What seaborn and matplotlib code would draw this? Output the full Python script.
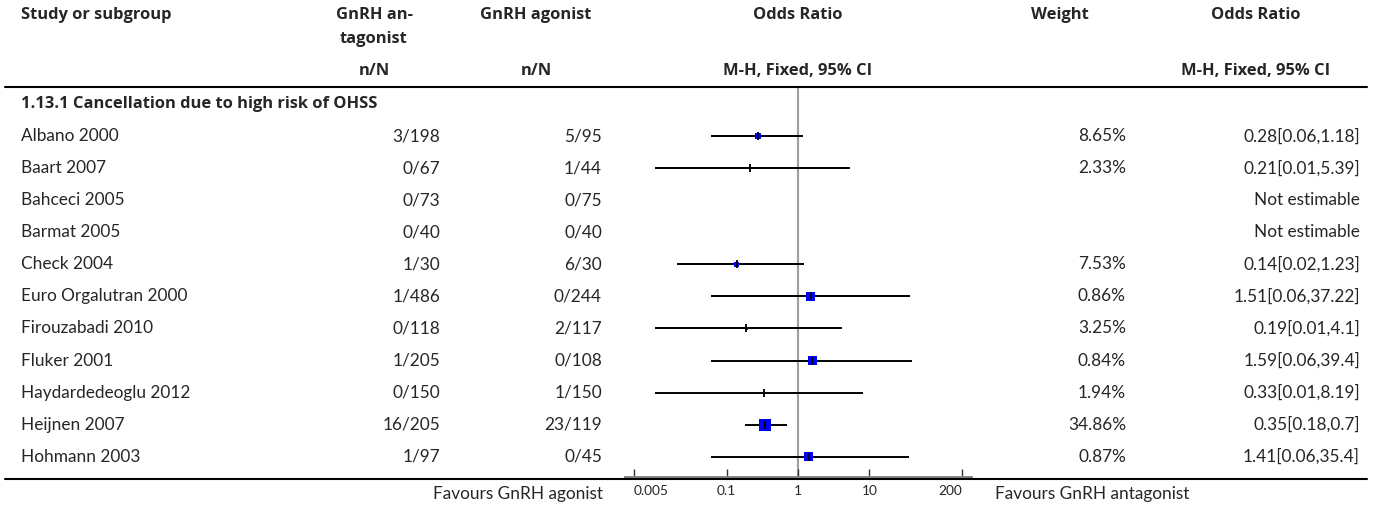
import numpy as np
import pandas as pd
import matplotlib
matplotlib.use("Agg")
import matplotlib.pyplot as plt
import matplotlib.transforms as mtransforms
from matplotlib.lines import Line2D
import seaborn as sns

# ---------------- data ----------------
subgroup = "1.13.1 Cancellation due to high risk of OHSS"
studies = ["Albano 2000", "Baart 2007", "Bahceci 2005", "Barmat 2005", "Check 2004",
           "Euro Orgalutran 2000", "Firouzabadi 2010", "Fluker 2001",
           "Haydardedeoglu 2012", "Heijnen 2007", "Hohmann 2003"]
antagonist_nN = ["3/198", "0/67", "0/73", "0/40", "1/30", "1/486", "0/118",
                 "1/205", "0/150", "16/205", "1/97"]
agonist_nN = ["5/95", "1/44", "0/75", "0/40", "6/30", "0/244", "2/117",
              "0/108", "1/150", "23/119", "0/45"]
odds_ratio = [0.28, 0.21, np.nan, np.nan, 0.14, 1.51, 0.19, 1.59, 0.33, 0.35, 1.41]
ci_low = [0.06, 0.01, np.nan, np.nan, 0.02, 0.06, 0.01, 0.06, 0.01, 0.18, 0.06]
ci_high = [1.18, 5.39, np.nan, np.nan, 1.23, 37.22, 4.1, 39.4, 8.19, 0.7, 35.4]
weights = ["8.65%", "2.33%", "", "", "7.53%", "0.86%", "3.25%", "0.84%",
           "1.94%", "34.86%", "0.87%"]
or_text = ["0.28[0.06,1.18]", "0.21[0.01,5.39]", "Not estimable", "Not estimable",
           "0.14[0.02,1.23]", "1.51[0.06,37.22]", "0.19[0.01,4.1]", "1.59[0.06,39.4]",
           "0.33[0.01,8.19]", "0.35[0.18,0.7]", "1.41[0.06,35.4]"]
tick_values = [0.005, 0.1, 1, 10, 200]
tick_labels = ["0.005", "0.1", "1", "10", "200"]

# style: box side in pixels as drawn
box_px = [6, 0, 0, 0, 5, 9, 3, 8.5, 2, 12, 9]

# ---------------- figure ----------------
W, H = 1375, 507
sns.set_theme(style="white")
plt.rcParams['font.family'] = ['Lato', 'DejaVu Sans']
HFONT = ['Open Sans', 'DejaVu Sans']
fig = plt.figure(figsize=(W / 100, H / 100), dpi=100)
renderer = fig.canvas.get_renderer()


def fit_size(text, target_px, **kw):
    t = fig.text(0, 0, text, fontsize=10, **kw)
    w = t.get_window_extent(renderer=renderer).width
    t.remove()
    return 10 * target_px / w


FS = fit_size("Favours GnRH agonist", 170)
HFS = fit_size("Study or subgroup", 151, fontweight="bold", family=HFONT)
TFS = fit_size("0.005", 35)


def fx(px):
    return px / W


def fy(py):
    return 1 - py / H


ax_left, ax_right = 625, 971
ax_top, ax_bot = 88, 477
ax = fig.add_axes([fx(ax_left), fy(ax_bot), fx(ax_right - ax_left), (ax_bot - ax_top) / H])

rows = np.arange(1, len(studies) + 1)
row0, row_step = 104, 32.07
ax.set_ylim((ax_bot - row0) / row_step, (ax_top - row0) / row_step)
ax.set_xscale("log")
ax.set_xlim(10 ** -2.42, 10 ** 2.42)

df = pd.DataFrame({"study": studies, "row": rows, "odds": odds_ratio,
                   "lo": ci_low, "hi": ci_high, "area": [(b * 0.72) ** 2 for b in box_px]})
dv = df.dropna().reset_index(drop=True)

ax.axvline(1, color="#a0a0a0", lw=1.5, zorder=0)
ax.hlines(dv["row"], dv["lo"], dv["hi"], color="black", lw=1.4, zorder=2)
amin, amax = dv["area"].min(), dv["area"].max()
sns.scatterplot(data=dv, x="odds", y="row", size="area", sizes=(amin, amax),
                size_norm=(amin, amax), marker="s", color="#0000ff",
                edgecolor="none", linewidth=0, legend=False, ax=ax, zorder=3)
sns.scatterplot(data=dv, x="odds", y="row", marker="|", s=(8 * 0.72) ** 2,
                color="black", linewidth=1.3, legend=False, ax=ax, zorder=4)

for s in ["top", "left", "right"]:
    ax.spines[s].set_visible(False)
ax.spines["bottom"].set_color("#808080")
ax.spines["bottom"].set_linewidth(2)
ax.set_xticks(tick_values)
ax.set_xticklabels(tick_labels)
ax.minorticks_off()
ax.tick_params(axis="x", direction="in", length=6, width=1, color="#333333",
               labelsize=TFS, pad=6, bottom=True)
tl = ax.get_xticklabels()
tl[0].set_horizontalalignment("left")
tl[-1].set_horizontalalignment("right")
ax.tick_params(axis="y", left=False, labelleft=False)
ax.set_xlabel("")
ax.set_ylabel("")
ax.patch.set_alpha(0)

# full-width rules
fig.add_artist(Line2D([fx(5), fx(1367)], [fy(87), fy(87)], color="black", lw=1.5))
fig.add_artist(Line2D([fx(5), fx(1367)], [fy(479), fy(479)], color="black", lw=1.5))

# column anchors (pixels)
LX = 21
C_ANT, R_ANT = 374, 440
C_AGO, R_AGO = 536, 602
C_FOR = 798
C_WT, R_WT = 1060, 1126
C_OR, R_OR = 1256, 1360

hb = dict(fontsize=HFS, fontweight="bold", family=HFONT, va="center")
fig.text(fx(LX), fy(15), "Study or subgroup", ha="left", **hb)
fig.text(fx(C_ANT), fy(15), "GnRH an-", ha="center", **hb)
fig.text(fx(C_ANT), fy(39), "tagonist", ha="center", **hb)
fig.text(fx(C_ANT), fy(71), "n/N", ha="center", **hb)
fig.text(fx(C_AGO), fy(15), "GnRH agonist", ha="center", **hb)
fig.text(fx(C_AGO), fy(71), "n/N", ha="center", **hb)
fig.text(fx(C_FOR), fy(15), "Odds Ratio", ha="center", **hb)
fig.text(fx(C_FOR), fy(71), "M-H, Fixed, 95% CI", ha="center", **hb)
fig.text(fx(C_WT), fy(15), "Weight", ha="center", **hb)
fig.text(fx(C_OR), fy(15), "Odds Ratio", ha="center", **hb)
fig.text(fx(C_OR), fy(71), "M-H, Fixed, 95% CI", ha="center", **hb)

# row texts via blended transform (figure x, data y)
tr = mtransforms.blended_transform_factory(fig.transFigure, ax.transData)
fig.text(fx(LX), 0, subgroup, transform=tr, ha="left", va="center",
         fontsize=HFS, fontweight="bold", family=HFONT)
for r, name, a, g, w, o in zip(rows, studies, antagonist_nN, agonist_nN, weights, or_text):
    fig.text(fx(LX), r, name, transform=tr, ha="left", va="center", fontsize=FS)
    fig.text(fx(R_ANT), r, a, transform=tr, ha="right", va="center", fontsize=FS)
    fig.text(fx(R_AGO), r, g, transform=tr, ha="right", va="center", fontsize=FS)
    if w:
        fig.text(fx(R_WT), r, w, transform=tr, ha="right", va="center", fontsize=FS)
    fig.text(fx(R_OR), r, o, transform=tr, ha="right", va="center", fontsize=FS)

# footer
fig.text(fx(603), fy(494), "Favours GnRH agonist", ha="right", va="center", fontsize=FS)
fig.text(fx(995), fy(494), "Favours GnRH antagonist", ha="left", va="center", fontsize=FS)

fig.savefig("out.png", dpi=100)
